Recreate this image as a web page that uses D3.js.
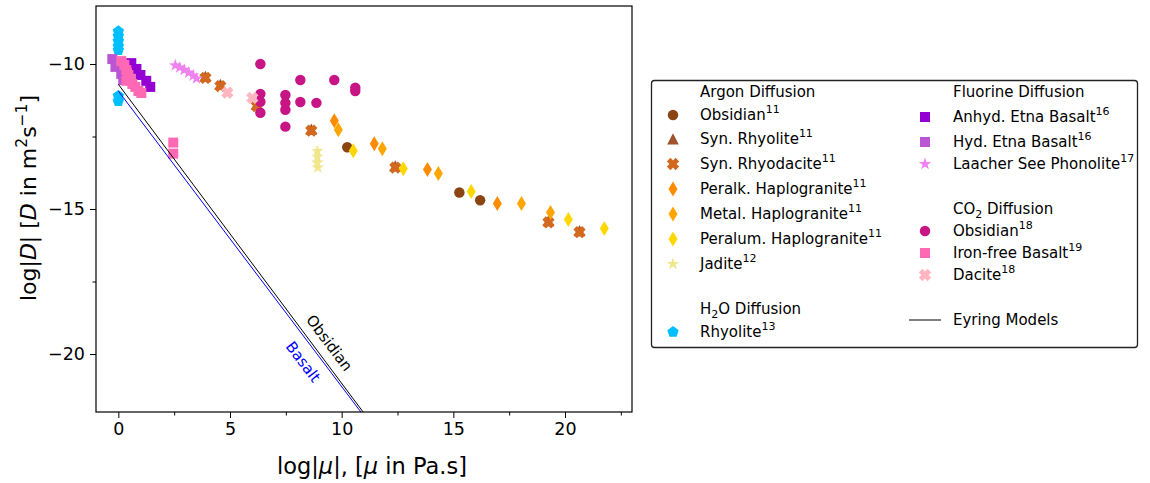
<!DOCTYPE html>
<html lang="en">
    <head>
        <meta charset="utf-8" />
        <title>Diffusivity vs viscosity</title>
        <script src="https://cdn.jsdelivr.net/npm/d3@7"></script>
        <style>
            body {
                margin: 0;
                background: #fff;
            }
            svg text {
                font-family: "DejaVu Sans", sans-serif;
            }
        </style>
    </head>
    <body>
        <div id="chart"></div>
        <script>
            // axis ticks
            const xTicks = [0, 5, 10, 15, 20];
            const yTicks = [-10, -15, -20];
            const xMinor = [2.5, 7.5, 12.5, 17.5, 22.5];
            const yMinor = [-12.5, -17.5];

            // [log viscosity, log D]
            const arObsidian = [[10.25, -12.87], [15.27, -14.43], [16.2, -14.7]];
            const synRhyolite = [[3.9, -10.43], [4.57, -10.71], [6.2, -11.4], [8.64, -12.25], [12.4, -13.52], [19.26, -15.41], [20.65, -15.75]];
            const synRhyodacite = [[3.9, -10.48], [4.57, -10.76], [6.2, -11.45], [8.64, -12.3], [12.4, -13.57], [19.26, -15.46], [20.65, -15.8]];
            const peralk = [[9.67, -11.96], [11.46, -12.75], [13.84, -13.64], [16.97, -14.81]];
            const metal = [[9.85, -12.27], [11.82, -12.92], [14.33, -13.78], [18.05, -14.81], [19.35, -15.12]];
            const peralum = [[10.52, -12.99], [12.76, -13.61], [15.8, -14.4], [20.15, -15.36], [21.76, -15.67]];
            const jadite = [[8.91, -13.0], [8.91, -13.2], [8.91, -13.4], [8.93, -13.57]];
            const h2oRhyolite = [[0, -8.87], [0, -9.04], [0, -9.21], [0, -9.38], [0, -9.52], [0, -11.1], [0, -11.28]];
            const anhydEtna = [[0.58, -9.97], [0.81, -10.17], [0.99, -10.38], [1.25, -10.58], [1.43, -10.79]];
            const hydEtna = [[-0.27, -9.83], [-0.13, -10.1], [0.13, -10.34], [0.22, -10.55]];
            const laacher = [[2.55, -10.05], [2.75, -10.12], [2.95, -10.2], [3.15, -10.3], [3.35, -10.4], [3.5, -10.5]];
            const co2Obsidian = [[6.36, -10.0], [8.15, -10.55], [9.67, -10.55], [10.61, -10.82], [10.61, -10.93], [6.36, -11.03], [6.36, -11.3], [6.36, -11.68], [7.48, -11.07], [7.48, -11.34], [7.48, -11.58], [7.48, -12.16], [8.15, -11.31], [8.87, -11.34]];
            const ironFree = [[0.13, -9.9], [0.27, -10.03], [0.36, -10.21], [0.45, -10.38], [0.54, -10.52], [0.63, -10.69], [0.76, -10.79], [0.9, -10.93], [1.03, -11.0], [0.36, -10.58], [2.46, -12.71], [2.46, -13.09]];
            const co2Dacite = [[4.88, -10.99], [6.0, -11.17]];

            // Eyring model lines
            const eyringObsidian = [[0, -10.7], [10.96, -22]];
            const eyringBasalt = [[0, -10.93], [10.86, -22]];

            const width = 1150;
            const height = 483;
            const plot = { left: 96, right: 632, top: 6, bottom: 412 };

            const svg = d3
                .select("#chart")
                .append("svg")
                .attr("width", width)
                .attr("height", height);

            const x = d3.scaleLinear().domain([-1, 23]).range([plot.left, plot.right]);
            const y = d3.scaleLinear().domain([-22, -8]).range([plot.bottom, plot.top]);

            // marker paths, centred on 0,0
            function poly(pts) {
                return "M" + pts.map((p) => p[0].toFixed(2) + "," + p[1].toFixed(2)).join("L") + "Z";
            }
            function shape(kind) {
                if (kind == "circle") return d3.symbol(d3.symbolCircle, 86)();
                if (kind == "square") return poly([[-5, -5], [5, -5], [5, 5], [-5, 5]]);
                if (kind == "triangle") return poly([[0, -5.8], [5.8, 5.4], [-5.8, 5.4]]);
                if (kind == "diamond") return poly([[0, -7.5], [4.5, 0], [0, 7.5], [-4.5, 0]]);
                if (kind == "x") {
                    const r = 6.2, w = 2.5;
                    const pts = [[-w, -r], [w, -r], [w, -w], [r, -w], [r, w], [w, w], [w, r], [-w, r], [-w, w], [-r, w], [-r, -w], [-w, -w]];
                    const c = Math.SQRT1_2;
                    return poly(pts.map((p) => [c * (p[0] - p[1]), c * (p[0] + p[1])]));
                }
                if (kind == "star" || kind == "pentagon") {
                    const pts = [];
                    const n = kind == "star" ? 10 : 5;
                    for (let i = 0; i < n; i++) {
                        const a = -Math.PI / 2 + (i * 2 * Math.PI) / n;
                        const r = kind == "star" ? (i % 2 ? 2.6 : 6.6) : 6;
                        pts.push([r * Math.cos(a), r * Math.sin(a)]);
                    }
                    return poly(pts);
                }
            }

            const series = [
                { data: arObsidian, kind: "circle", color: "#8B4513" },
                { data: synRhyolite, kind: "triangle", color: "#A0522D" },
                { data: synRhyodacite, kind: "x", color: "#D2691E" },
                { data: peralk, kind: "diamond", color: "#FF8C00" },
                { data: metal, kind: "diamond", color: "#FFA500" },
                { data: peralum, kind: "diamond", color: "#FFD700" },
                { data: jadite, kind: "star", color: "#F0E68C" },
                { data: h2oRhyolite, kind: "pentagon", color: "#00BFFF" },
                { data: anhydEtna, kind: "square", color: "#9400D3" },
                { data: hydEtna, kind: "square", color: "#BA55D3" },
                { data: laacher, kind: "star", color: "#EE82EE" },
                { data: co2Obsidian, kind: "circle", color: "#C71585" },
                { data: ironFree, kind: "square", color: "#FF69B4" },
                { data: co2Dacite, kind: "x", color: "#FFB6C1" },
            ];

            svg.append("clipPath")
                .attr("id", "clip")
                .append("rect")
                .attr("x", plot.left)
                .attr("y", plot.top)
                .attr("width", plot.right - plot.left)
                .attr("height", plot.bottom - plot.top);

            const g = svg.append("g").attr("clip-path", "url(#clip)");

            series.forEach((s) => {
                g.selectAll(null)
                    .data(s.data)
                    .enter()
                    .append("path")
                    .attr("d", shape(s.kind))
                    .attr("transform", (d) => "translate(" + x(d[0]) + "," + y(d[1]) + ")")
                    .attr("fill", s.color);
            });

            const line = d3.line().x((d) => x(d[0])).y((d) => y(d[1]));
            g.append("path").datum(eyringObsidian).attr("d", line).attr("fill", "none").attr("stroke", "black").attr("stroke-width", 1);
            g.append("path").datum(eyringBasalt).attr("d", line).attr("fill", "none").attr("stroke", "blue").attr("stroke-width", 1);

            // labels along the model lines
            function slopeAngle(pts) {
                const dx = x(pts[1][0]) - x(pts[0][0]);
                const dy = y(pts[1][1]) - y(pts[0][1]);
                return (Math.atan2(dy, dx) * 180) / Math.PI;
            }
            svg.append("text")
                .attr("transform", "translate(" + x(9.45) + "," + y(-19.62) + ") rotate(" + slopeAngle(eyringObsidian) + ")")
                .attr("text-anchor", "middle")
                .attr("dy", "0.35em")
                .attr("font-size", 15)
                .attr("fill", "black")
                .text("Obsidian");
            svg.append("text")
                .attr("transform", "translate(" + x(8.28) + "," + y(-20.27) + ") rotate(" + slopeAngle(eyringBasalt) + ")")
                .attr("text-anchor", "middle")
                .attr("dy", "0.35em")
                .attr("font-size", 15)
                .attr("fill", "blue")
                .text("Basalt");

            // axes
            svg.append("g")
                .attr("transform", "translate(0," + plot.bottom + ")")
                .call(d3.axisBottom(x).tickValues(xTicks).tickSize(6).tickPadding(5).tickFormat((d) => d3.format("d")(d)));
            svg.append("g")
                .attr("transform", "translate(0," + plot.bottom + ")")
                .call(d3.axisBottom(x).tickValues(xMinor).tickSize(3.5).tickFormat(""));
            svg.append("g")
                .attr("transform", "translate(" + plot.left + ",0)")
                .call(d3.axisLeft(y).tickValues(yTicks).tickSize(6).tickPadding(5).tickFormat((d) => "\u2212" + Math.abs(d)));
            svg.append("g")
                .attr("transform", "translate(" + plot.left + ",0)")
                .call(d3.axisLeft(y).tickValues(yMinor).tickSize(3.5).tickFormat(""));
            svg.selectAll(".domain").remove();
            svg.selectAll(".tick line").attr("stroke", "black").attr("stroke-width", 1);
            svg.selectAll(".tick text").attr("font-size", 17.5).attr("font-family", "DejaVu Sans").attr("fill", "black");

            svg.append("rect")
                .attr("x", plot.left)
                .attr("y", plot.top)
                .attr("width", plot.right - plot.left)
                .attr("height", plot.bottom - plot.top)
                .attr("fill", "none")
                .attr("stroke", "black")
                .attr("stroke-width", 1.2);

            // axis titles
            const xl = svg.append("text").attr("x", 372).attr("y", 474).attr("text-anchor", "middle").attr("font-size", 22.5);
            xl.append("tspan").text("log|");
            xl.append("tspan").attr("font-style", "italic").text("\u03bc");
            xl.append("tspan").text("|, [");
            xl.append("tspan").attr("font-style", "italic").text("\u03bc");
            xl.append("tspan").text(" in Pa.s]");

            const yl = svg.append("text").attr("transform", "translate(36,198) rotate(-90)").attr("text-anchor", "middle").attr("font-size", 22);
            yl.append("tspan").text("log|");
            yl.append("tspan").attr("font-style", "italic").text("D");
            yl.append("tspan").text("| [");
            yl.append("tspan").attr("font-style", "italic").text("D");
            yl.append("tspan").text(" in m");
            yl.append("tspan").attr("font-size", 15.5).attr("dy", -9).text("2");
            yl.append("tspan").attr("dy", 9).text("s");
            yl.append("tspan").attr("font-size", 15.5).attr("dy", -9).text("\u22121");
            yl.append("tspan").attr("dy", 9).text("]");

            // legend
            svg.append("rect")
                .attr("x", 651.5)
                .attr("y", 80.5)
                .attr("width", 486)
                .attr("height", 267)
                .attr("rx", 3)
                .attr("fill", "white")
                .attr("stroke", "#222")
                .attr("stroke-width", 1.3);

            const legendRows = [
                { col: 0, cy: 92, label: [["Argon Diffusion"]] },
                { col: 0, cy: 115, s: 0, label: [["Obsidian"], ["11", "sup"]] },
                { col: 0, cy: 139, s: 1, label: [["Syn. Rhyolite"], ["11", "sup"]] },
                { col: 0, cy: 164, s: 2, label: [["Syn. Rhyodacite"], ["11", "sup"]] },
                { col: 0, cy: 189, s: 3, label: [["Peralk. Haplogranite"], ["11", "sup"]] },
                { col: 0, cy: 214, s: 4, label: [["Metal. Haplogranite"], ["11", "sup"]] },
                { col: 0, cy: 239, s: 5, label: [["Peralum. Haplogranite"], ["11", "sup"]] },
                { col: 0, cy: 264, s: 6, label: [["Jadite"], ["12", "sup"]] },
                { col: 0, cy: 309, label: [["H"], ["2", "sub"], ["O Diffusion"]] },
                { col: 0, cy: 332, s: 7, label: [["Rhyolite"], ["13", "sup"]] },
                { col: 1, cy: 92, label: [["Fluorine Diffusion"]] },
                { col: 1, cy: 117, s: 8, label: [["Anhyd. Etna Basalt"], ["16", "sup"]] },
                { col: 1, cy: 142, s: 9, label: [["Hyd. Etna Basalt"], ["16", "sup"]] },
                { col: 1, cy: 164, s: 10, label: [["Laacher See Phonolite"], ["17", "sup"]] },
                { col: 1, cy: 209, label: [["CO"], ["2", "sub"], [" Diffusion"]] },
                { col: 1, cy: 231, s: 11, label: [["Obsidian"], ["18", "sup"]] },
                { col: 1, cy: 253, s: 12, label: [["Iron-free Basalt"], ["19", "sup"]] },
                { col: 1, cy: 275, s: 13, label: [["Dacite"], ["18", "sup"]] },
                { col: 1, cy: 320, line: true, label: [["Eyring Models"]] },
            ];
            const markerX = [673, 925];
            const textX = [700, 953];

            legendRows.forEach((r) => {
                if (r.s !== undefined) {
                    const s = series[r.s];
                    svg.append("path")
                        .attr("d", shape(s.kind))
                        .attr("transform", "translate(" + markerX[r.col] + "," + r.cy + ")")
                        .attr("fill", s.color);
                }
                if (r.line) {
                    svg.append("line")
                        .attr("x1", markerX[r.col] - 16)
                        .attr("x2", markerX[r.col] + 16)
                        .attr("y1", r.cy)
                        .attr("y2", r.cy)
                        .attr("stroke", "#808080")
                        .attr("stroke-width", 2);
                }
                const t = svg.append("text").attr("x", textX[r.col]).attr("y", r.cy + 5).attr("font-size", 15).attr("fill", "black");
                let shift = 0;
                r.label.forEach((p) => {
                    let dy = 0;
                    const ts = t.append("tspan").text(p[0]);
                    if (p[1] == "sup") {
                        dy = -7;
                        ts.attr("font-size", 11);
                    } else if (p[1] == "sub") {
                        dy = 4;
                        ts.attr("font-size", 11);
                    }
                    ts.attr("dy", dy - shift);
                    shift = dy;
                });
            });
        </script>
    </body>
</html>
